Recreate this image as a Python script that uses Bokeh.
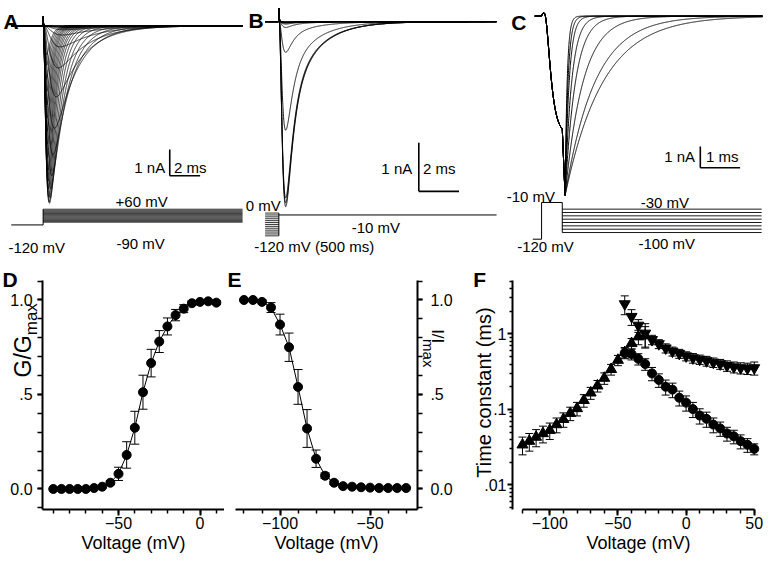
import numpy as np
from bokeh.plotting import figure
from bokeh.models import Range1d, Label, Whisker, TeeHead, ColumnDataSource, FixedTicker
from bokeh.layouts import row, column
from bokeh.embed import file_html
from bokeh.resources import INLINE

FONT = "Liberation Sans"

# ============================ DATA ============================
# --- A: activation family (holding -120 mV, steps -90 .. +60 mV)
a_hold_mV = -120
a_step_mV = [-90, -80, -70, -60, -50, -40, -30, -20, -10, 0, 10, 20, 30, 40, 50, 60]
a_test_mV = [-90, -85, -80, -75, -70, -65, -60, -55, -50, -45, -40, -35, -30, -25, -20, -15,
             -10, -5, 0, 5, 10, 15, 20, 25, 30, 35, 40, 45, 50, 55, 60]
a_peak_nA = [0.0, 0.0, 0.01, 0.02, 0.04, 0.08, 0.15, 0.35, 0.8, 1.6, 2.7, 3.9, 4.9, 5.7, 6.2, 6.55,
             6.75, 6.7, 6.5, 6.2, 5.9, 5.5, 5.0, 4.5, 4.0, 3.5, 3.0, 2.5, 2.0, 1.5, 1.1]
a_tau_m_ms = [0.5, 0.5, 0.5, 0.5, 0.5, 0.5, 0.5, 0.45, 0.4, 0.35, 0.3, 0.26, 0.23, 0.21, 0.19, 0.18,
              0.17, 0.16, 0.15, 0.145, 0.14, 0.135, 0.13, 0.125, 0.12, 0.115, 0.11, 0.105, 0.1, 0.1, 0.1]
a_tau_h_ms = [2.5, 2.5, 2.5, 2.5, 2.5, 2.5, 2.5, 2.3, 2.1, 1.9, 1.7, 1.45, 1.2, 1.0, 0.85, 0.72,
              0.62, 0.55, 0.5, 0.46, 0.43, 0.4, 0.38, 0.36, 0.34, 0.33, 0.32, 0.31, 0.3, 0.29, 0.28]
a_artifact_nA = 0.4

# --- B: steady-state inactivation (500 ms prepulse, test -10 mV)
b_pre_mV = [-120, -110, -100, -90, -80, -70, -60, -50, -40, -30, -20, -10, 0]
b_test_mV = -10
b_peak_nA = [3.8, 3.72, 3.62, 2.23, 0.63, 0.12, 0.05, 0.03, 0.02, 0.015, 0.01, 0.005, 0.0]
b_tau_m_ms = 0.15
b_tau_fast_ms = 0.32
b_tau_slow_ms = 1.3
b_frac_slow = 0.2
b_artifact_nA = 0.3

# --- C: deactivation tails (-10 mV pulse, repolarised to -30 .. -100 mV)
c_hold_mV = -120
c_pulse_mV = -10
c_pulse_ms = 0.52
c_tail_mV = [-30, -40, -50, -60, -70, -80, -90, -100]
c_tail_tau_ms = [0.95, 0.75, 0.45, 0.26, 0.166, 0.103, 0.074, 0.053]
c_act_nA = 5.6
c_tail_nA = 8.5
c_act_tau_ms = 0.11
c_act_delay_ms = 0.06
c_tail_rise_ms = 0.07
c_blip_nA = 0.15

# --- D: activation G/Gmax
d_mV = [-90, -85, -80, -75, -70, -65, -60, -55, -50, -45, -40, -35, -30, -25, -20, -15, -10, -5, 0, 5, 10]
d_g = [0.0, 0.0, 0.0, 0.0, 0.0, 0.005, 0.012, 0.033, 0.08, 0.18, 0.324, 0.512, 0.666, 0.78, 0.86,
       0.92, 0.954, 0.983, 0.99, 0.993, 0.986]
d_sem = [0, 0, 0, 0, 0, 0.003, 0.005, 0.01, 0.035, 0.07, 0.087, 0.09, 0.073, 0.058, 0.045, 0.03,
         0.021, 0.012, 0.008, 0.008, 0.01]

# --- E: steady-state inactivation I/Imax
e_mV = [-120, -115, -110, -105, -100, -95, -90, -85, -80, -75, -70, -65, -60, -55, -50, -45, -40, -35, -30]
e_i = [1.0, 1.0, 0.99, 0.96, 0.87, 0.75, 0.54, 0.32, 0.16, 0.07, 0.033, 0.015, 0.012, 0.009, 0.007,
       0.005, 0.005, 0.005, 0.005]
e_sem = [0.003, 0.004, 0.01, 0.026, 0.055, 0.075, 0.092, 0.1, 0.046, 0.015, 0.008, 0.004, 0.003, 0.002,
         0.002, 0.002, 0.002, 0.002, 0.002]

# --- F: time constants (ms)
f_deact_mV = [-120, -115, -110, -105, -100, -95, -90, -85, -80, -75, -70, -65, -60, -55, -50, -45, -40, -35, -30]
f_deact_tau = [0.034, 0.038, 0.043, 0.048, 0.053, 0.063, 0.074, 0.089, 0.103, 0.132, 0.166, 0.206,
               0.26, 0.34, 0.45, 0.57, 0.75, 0.92, 0.95]
f_deact_sem = [0.009, 0.01, 0.011, 0.012, 0.013, 0.014, 0.016, 0.018, 0.021, 0.025, 0.03, 0.036,
               0.045, 0.055, 0.07, 0.09, 0.12, 0.2, 0.3]
f_inact_mV = [-45, -40, -35, -30, -25, -20, -15, -10, -5, 0, 5, 10, 15, 20, 25, 30, 35, 40, 45, 50]
f_inact_tau = [0.56, 0.543, 0.468, 0.40, 0.30, 0.246, 0.20, 0.183, 0.143, 0.123, 0.101, 0.083, 0.075,
               0.063, 0.056, 0.048, 0.044, 0.038, 0.034, 0.030]
f_inact_sem = [0.09, 0.09, 0.08, 0.07, 0.06, 0.05, 0.045, 0.04, 0.032, 0.028, 0.023, 0.019, 0.017,
               0.014, 0.012, 0.01, 0.009, 0.008, 0.007, 0.005]
f_slow_mV = [-45, -40, -35, -30, -25, -20, -15, -10, -5, 0, 5, 10, 15, 20, 25, 30, 35, 40, 45, 50]
f_slow_tau = [2.5, 1.7, 1.3, 1.02, 0.84, 0.74, 0.65, 0.59, 0.55, 0.51, 0.48, 0.46, 0.44, 0.42, 0.40,
              0.38, 0.365, 0.355, 0.35, 0.355]
f_slow_sem = [0.7, 0.4, 0.25, 0.35, 0.12, 0.1, 0.09, 0.08, 0.075, 0.07, 0.07, 0.065, 0.065, 0.06,
              0.06, 0.06, 0.06, 0.06, 0.06, 0.07]

# ============================ HELPERS ============================
SX = 767 / 783.0
SY = 561 / 577.0


def hh_trace(t, amp, tm, th, th2=None, frac2=0.0, art=0.0):
    on = (t >= 0).astype(float)
    tt = np.clip(t, 0.0, None)
    m3 = (1.0 - np.exp(-tt / tm)) ** 3
    h = (1.0 - frac2) * np.exp(-tt / th)
    if th2:
        h = h + frac2 * np.exp(-tt / th2)
    g = m3 * h * on
    if g.max() > 0:
        g = g / g.max()
    return -amp * g + art * np.exp(-tt / 0.02) * on


def trace_fig(w, h, box, t0, pms, base, pna, mv0, pmv):
    x0, x1, bh = box
    tx = lambda x: (x - t0) / pms
    iy = lambda y: (base - y) / pna
    vy = lambda y: (mv0 - y) / pmv
    p = figure(width=w, height=h, x_range=Range1d(tx(x0), tx(x1)), y_range=Range1d(iy(bh), iy(0)),
               x_axis_location=None, y_axis_location=None, output_backend="svg",
               toolbar_location=None, min_border=0, outline_line_color=None)
    p.grid.visible = False
    p.extra_y_ranges = {"mV": Range1d(vy(bh), vy(0))}
    return p, tx, iy, vy


def txt(p, x, y, s, size="15px", align="center", baseline="middle", bold=False,
        yr="default", angle=0.0):
    p.add_layout(Label(x=x, y=y, text=s, text_font=FONT,
                       text_font_size=size, text_align=align, text_baseline=baseline,
                       text_font_style="bold" if bold else "normal", angle=angle,
                       text_color="black", y_range_name=yr))


def scalebar(p, cx, cy, dx, dy):
    p.segment(x0=[cx, cx], y0=[cy, cy], x1=[cx, cx + dx], y1=[cy + dy, cy],
              line_color="black", line_width=1.6)


TOP_H = 266  # reference px height of the trace row
top_h = round(TOP_H * SY)

# ============================ PANEL A ============================
pA, tx, iy, vy = trace_fig(245, top_h, (0, 250, TOP_H), 43.5, 15.5, 26, 27, 219.7, 0.09)
tA = np.arange(tx(11), tx(247), 0.005)
pA.multi_line(xs=[tA] * len(a_test_mV),
              ys=[hh_trace(tA, a, m, hh, art=a_artifact_nA) for a, m, hh in zip(a_peak_nA, a_tau_m_ms, a_tau_h_ms)],
              line_color="black", line_width=0.8)
pA.line([tx(11), 0], [a_hold_mV, a_hold_mV], y_range_name="mV", line_color="black", line_width=1)
pA.segment(x0=[0], y0=[a_hold_mV], x1=[0], y1=[max(a_step_mV)], y_range_name="mV", line_color="black", line_width=1)
pA.segment(x0=[0] * len(a_step_mV), y0=a_step_mV, x1=[tx(247)] * len(a_step_mV), y1=a_step_mV,
           y_range_name="mV", line_color="black", line_width=0.7)
txt(pA, tx(144), vy(206.7), "+60 mV", yr="mV")
txt(pA, tx(143), vy(250), "-90 mV", yr="mV")
txt(pA, tx(37), vy(253.5), "-120 mV", yr="mV")
txt(pA, tx(168), iy(171), "1 nA", align="right")
txt(pA, tx(177), iy(171), "2 ms", align="left")
scalebar(pA, tx(172.7), iy(180), 2, 1)
txt(pA, tx(3), iy(22), "A", size="21px", align="left", baseline="alphabetic", bold=True)

# ============================ PANEL B ============================
pB, tx, iy, vy = trace_fig(255, top_h, (250, 510, TOP_H), 284, 20.5, 21.7, 50, 218.3, 0.195)
tB = np.arange(tx(270), tx(506), 0.005)
pB.multi_line(xs=[tB] * len(b_peak_nA),
              ys=[hh_trace(tB, a, b_tau_m_ms, b_tau_fast_ms, b_tau_slow_ms, b_frac_slow, b_artifact_nA) for a in b_peak_nA],
              line_color="black", line_width=0.9)
pB.segment(x0=[tx(270)] * len(b_pre_mV), y0=b_pre_mV, x1=[0] * len(b_pre_mV), y1=b_pre_mV,
           y_range_name="mV", line_color="black", line_width=0.8)
pB.segment(x0=[0], y0=[min(b_pre_mV)], x1=[0], y1=[max(b_pre_mV)], y_range_name="mV", line_color="black", line_width=1)
pB.line([0, tx(506)], [b_test_mV, b_test_mV], y_range_name="mV", line_color="black", line_width=1)
txt(pB, tx(268), vy(211), "0 mV", yr="mV")
txt(pB, tx(383), vy(233), "-10 mV", yr="mV")
txt(pB, tx(320), vy(253), "-120 mV (500 ms)", yr="mV")
txt(pB, tx(420), iy(172.5), "1 nA", align="right")
txt(pB, tx(431), iy(172.5), "2 ms", align="left")
scalebar(pB, tx(426.7), iy(196), 2, 1)
txt(pB, tx(253), iy(21), "B", size="21px", align="left", baseline="alphabetic", bold=True)

# ============================ PANEL C ============================
pC, tx, iy, vy = trace_fig(267, top_h, (510, 783, TOP_H), 552, 40.7, 16, 21.7, 204, 0.343)
tC = np.arange(tx(545), tx(778), 0.0025)


def c_trace(t, tau):
    ta = np.clip(t - c_act_delay_ms, 0, None)
    act = -c_act_nA * (1 - np.exp(-ta / c_act_tau_ms)) ** 3
    tr = c_pulse_ms
    i_r = -c_act_nA * (1 - np.exp(-(tr - c_act_delay_ms) / c_act_tau_ms)) ** 3
    tp = tr + c_tail_rise_ms
    ramp = i_r + (-c_tail_nA - i_r) * (t - tr) / c_tail_rise_ms
    decay = -c_tail_nA * np.exp(-np.clip(t - tp, 0, None) / tau)
    i = np.where(t < tr, act, np.where(t < tp, ramp, decay))
    i = np.where(t < 0, 0.0, i)
    tb = np.clip(t, 0, None)
    return i + c_blip_nA * (tb / 0.05) * np.exp(1 - tb / 0.05) * (t >= 0)


pC.multi_line(xs=[tC] * len(c_tail_tau_ms), ys=[c_trace(tC, tau) for tau in c_tail_tau_ms],
              line_color="black", line_width=1)
pC.line([tx(543), 0, 0, c_pulse_ms, c_pulse_ms], [c_hold_mV, c_hold_mV, c_pulse_mV, c_pulse_mV, min(c_tail_mV)],
        y_range_name="mV", line_color="black", line_width=1)
pC.segment(x0=[c_pulse_ms] * len(c_tail_mV), y0=c_tail_mV, x1=[tx(777)] * len(c_tail_mV), y1=c_tail_mV,
           y_range_name="mV", line_color="black", line_width=0.9)
txt(pC, tx(541), vy(201), "-10 mV", yr="mV")
txt(pC, tx(556), vy(253), "-120 mV", yr="mV")
txt(pC, tx(678), vy(207), "-30 mV", yr="mV")
txt(pC, tx(680), vy(250), "-100 mV", yr="mV")
txt(pC, tx(709), iy(160), "1 nA", align="right")
txt(pC, tx(720), iy(160), "1 ms", align="left")
scalebar(pC, tx(714.3), iy(171.7), 1, 1)
txt(pC, tx(521), iy(23), "C", size="21px", align="left", baseline="alphabetic", bold=True)

# ============================ BOTTOM ROW ============================
BOT_Y0, BOT_Y1 = TOP_H, 577        # reference rows of the bottom figures
bot_h = 561 - top_h
AX_TOP, AX_BOT = 287.3, 523.0       # reference rows where the axes run
D_X0, E_X0, F_X0, F_X1 = 0, 229, 470, 783   # reference columns of the bottom figures


def style_axes(p):
    p.grid.visible = False
    for ax in p.axis:
        ax.axis_line_width = 2
        ax.axis_line_color = "black"
        ax.major_tick_line_width = 2
        ax.major_tick_line_color = "black"
        ax.minor_tick_line_width = 1.5
        ax.minor_tick_line_color = "black"
        ax.major_tick_in = 0
        ax.minor_tick_in = 0
        ax.major_label_text_font = FONT
        ax.major_label_text_font_size = "16px"
        ax.major_label_text_color = "black"
        ax.axis_label_text_font = FONT
        ax.axis_label_text_font_size = "18px"
        ax.axis_label_text_font_style = "normal"
        ax.axis_label_text_color = "black"


def bottom_fig(w, xr, yr, yloc="left", ytype="linear"):
    p = figure(width=w, height=bot_h, x_range=Range1d(*xr), y_range=Range1d(*yr), y_axis_type=ytype,
               y_axis_location=yloc, output_backend="svg", toolbar_location=None,
               min_border=0, outline_line_color=None)
    style_axes(p)
    xa = p.xaxis[0]
    xa.major_tick_out = 6
    xa.minor_tick_out = 4
    xa.major_label_standoff = 2
    xa.axis_label = "Voltage (mV)"
    xa.axis_label_standoff = 0
    return p


def err(p, x, y, s, cap=9):
    src = ColumnDataSource(dict(x=x, lo=[a - b for a, b in zip(y, s)], hi=[a + b for a, b in zip(y, s)]))
    p.add_layout(Whisker(source=src, base="x", upper="hi", lower="lo", line_color="black", line_width=1,
                         upper_head=TeeHead(size=cap, line_color="black", line_width=1),
                         lower_head=TeeHead(size=cap, line_color="black", line_width=1)))


y_minor = [round(-0.1 + 0.1 * k, 2) for k in range(13)]
y_over = {0: "0.0", 0.5: ".5", 1: "1.0"}

wD = round((E_X0 - D_X0) * SX)
wE = round((F_X0 - D_X0) * SX) - wD
wF = 767 - wD - wE

# linear y mapping shared by D and E (reference px)
ly = lambda y: (502.3 - y) / 194.6

# ---- D
dx = lambda x: (x - 204.0) / 1.667
pD = bottom_fig(wD, (dx(D_X0), dx(E_X0)), (ly(BOT_Y1), ly(BOT_Y0)))
xa = pD.xaxis[0]
xa.ticker = FixedTicker(ticks=[-50, 0], minor_ticks=list(range(-90, 20, 10)))
xa.fixed_location = ly(AX_BOT)
xa.bounds = (dx(43), dx(228.5))
ya = pD.yaxis[0]
ya.ticker = FixedTicker(ticks=[0, 0.5, 1.0], minor_ticks=y_minor)
ya.major_label_overrides = y_over
ya.major_tick_out = 5
ya.minor_tick_out = 5
ya.major_label_standoff = 5
ya.fixed_location = dx(43)
ya.bounds = (ly(AX_BOT), ly(AX_TOP))
err(pD, d_mV, d_g, d_sem)
pD.line(d_mV, d_g, line_color="black", line_width=1)
pD.scatter(d_mV, d_g, marker="circle", size=9, color="black")
txt(pD, dx(22.5), ly(365.8), "G/G", size="23px", angle=np.pi / 2)
txt(pD, dx(31.7), ly(327.5), "max", size="17px", angle=np.pi / 2)
txt(pD, dx(2), ly(287), "D", size="21px", align="left", baseline="alphabetic", bold=True)

# ---- E
ex = lambda x: -50.0 + (x - 377.7) / 1.84
pE = bottom_fig(wE, (ex(E_X0), ex(F_X0)), (ly(BOT_Y1), ly(BOT_Y0)), yloc="right")
xa = pE.xaxis[0]
xa.ticker = FixedTicker(ticks=[-100, -50], minor_ticks=list(range(-120, -20, 10)))
xa.fixed_location = ly(AX_BOT)
xa.bounds = (ex(240), ex(426))
ya = pE.yaxis[0]
ya.ticker = FixedTicker(ticks=[0, 0.5, 1.0], minor_ticks=y_minor)
ya.major_label_overrides = y_over
ya.major_tick_out = 5
ya.minor_tick_out = 5
ya.major_label_standoff = 8
ya.fixed_location = ex(426)
ya.bounds = (ly(AX_BOT), ly(AX_TOP))
err(pE, e_mV, e_i, e_sem)
pE.line(e_mV, e_i, line_color="black", line_width=1)
pE.scatter(e_mV, e_i, marker="circle", size=9, color="black")
txt(pE, ex(447), ly(345), "I/I", size="17px", angle=-np.pi / 2)
txt(pE, ex(437), ly(362.5), "max", size="15px", angle=-np.pi / 2)
txt(pE, ex(232), ly(287), "E", size="21px", align="left", baseline="alphabetic", bold=True)

# ---- F
fx = lambda x: (x - 700.0) / 1.39
fy = lambda y: 10 ** ((342.7 - y) / 77.7)
pF = bottom_fig(wF, (fx(F_X0), fx(F_X1)), (fy(BOT_Y1), fy(BOT_Y0)), ytype="log")
xa = pF.xaxis[0]
xa.ticker = FixedTicker(ticks=[-100, -50, 0, 50], minor_ticks=list(range(-120, 60, 10)))
xa.fixed_location = fy(AX_BOT)
xa.bounds = (-120, 50)
ya = pF.yaxis[0]
ya.ticker = FixedTicker(ticks=[0.01, 0.1, 1.0],
                        minor_ticks=[k * 0.001 for k in range(5, 10)] + [k * 0.01 for k in range(2, 10)] +
                                    [k * 0.1 for k in range(2, 10)] + [2.0, 3.0, 4.0, 5.0])
ya.major_label_overrides = {0.01: ".01", 0.1: ".1", 1.0: "1"}
ya.major_tick_out = 5
ya.minor_tick_out = 3
ya.major_label_standoff = 1
ya.fixed_location = fx(523)
ya.bounds = (fy(AX_BOT), fy(AX_TOP))
err(pF, f_deact_mV, f_deact_tau, f_deact_sem, cap=8)
err(pF, f_inact_mV, f_inact_tau, f_inact_sem, cap=8)
err(pF, f_slow_mV, f_slow_tau, f_slow_sem, cap=8)
pF.scatter(f_deact_mV, f_deact_tau, marker="triangle", size=11, color="black")
pF.scatter(f_inact_mV, f_inact_tau, marker="circle", size=9, color="black")
pF.scatter(f_slow_mV, f_slow_tau, marker="inverted_triangle", size=11, color="black")
txt(pF, fx(494), fy(403), "Time constant (ms)", size="20px", angle=np.pi / 2)
txt(pF, fx(483), fy(287), "F", size="21px", align="left", baseline="alphabetic", bold=True)

layout = column(row(pA, pB, pC), row(pD, pE, pF))
open("out.html", "w").write(file_html(layout, INLINE))
